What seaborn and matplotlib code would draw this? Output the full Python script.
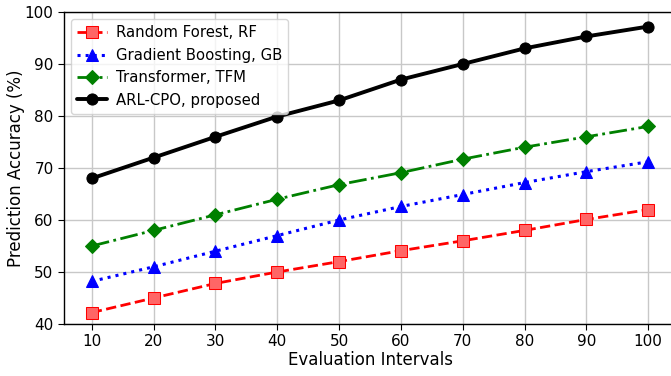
import pandas as pd
import matplotlib
matplotlib.use('Agg')
import matplotlib.pyplot as plt
import seaborn as sns

# data
intervals = [10, 20, 30, 40, 50, 60, 70, 80, 90, 100]
rf = [42.2, 45.0, 47.8, 50.0, 52.0, 54.1, 56.0, 58.0, 60.1, 62.0]
gb = [48.2, 51.0, 54.0, 57.0, 60.0, 62.6, 64.9, 67.2, 69.3, 71.2]
tfm = [55.0, 58.0, 61.0, 64.0, 66.8, 69.1, 71.7, 74.0, 76.0, 78.0]
arl = [68.0, 72.0, 76.0, 79.9, 83.0, 87.0, 90.0, 93.0, 95.3, 97.2]

sns.set_style('whitegrid')
plt.rcParams['font.family'] = ['DejaVu Sans']
plt.rcParams['text.color'] = 'black'
plt.rcParams['axes.labelcolor'] = 'black'

fig, ax = plt.subplots(figsize=(6.71, 3.76), dpi=100)

sns.lineplot(x=intervals, y=rf, ax=ax, color='red', linestyle='--', linewidth=2,
             marker='s', markersize=8, markerfacecolor='#ff6666', markeredgecolor='red',
             label='Random Forest, RF')
sns.lineplot(x=intervals, y=gb, ax=ax, color='blue', linestyle=':', linewidth=2.2,
             marker='^', markersize=8, markerfacecolor='blue', markeredgecolor='blue',
             label='Gradient Boosting, GB')
sns.lineplot(x=intervals, y=tfm, ax=ax, color='green', linestyle='-.', linewidth=2,
             marker='D', markersize=7, markerfacecolor='green', markeredgecolor='green',
             label='Transformer, TFM')
sns.lineplot(x=intervals, y=arl, ax=ax, color='black', linestyle='-', linewidth=2.8,
             marker='o', markersize=8, markerfacecolor='black', markeredgecolor='black',
             label='ARL-CPO, proposed')

ax.set_xlim(5.5, 104.5)
ax.set_ylim(40, 100)
ax.set_xticks(intervals)
ax.set_yticks([40, 50, 60, 70, 80, 90, 100])
ax.set_xlabel('Evaluation Intervals', fontsize=12, labelpad=1)
ax.set_ylabel('Prediction Accuracy (%)', fontsize=12, labelpad=0)
ax.tick_params(labelsize=11, length=4, color='black', labelcolor='black', left=True, bottom=True)
ax.grid(True, color='#c8c8c8', linewidth=1)
for s in ax.spines.values():
    s.set_color('black')
    s.set_linewidth(1)

ax.legend(loc='upper left', fontsize=10.7, frameon=True, handlelength=2, handletextpad=0.6)

# right edge of the axes runs just past the image, as in the reference
plt.subplots_adjust(left=64 / 671, right=676 / 671, top=1 - 12 / 376, bottom=1 - 324 / 376)
plt.savefig('out.png', dpi=100)
plt.close()
